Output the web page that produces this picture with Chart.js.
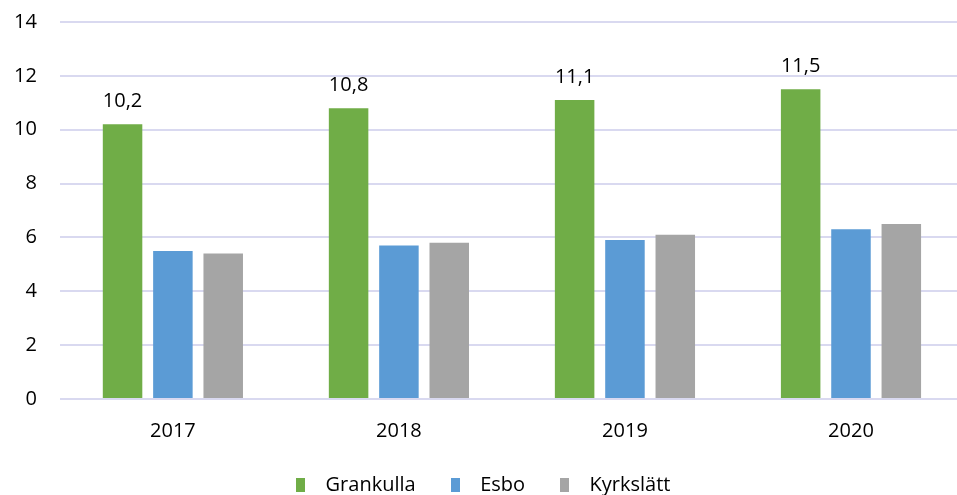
<!DOCTYPE html>
<html><head><meta charset="utf-8">
<script src="https://cdn.jsdelivr.net/npm/chart.js@4/dist/chart.umd.min.js"></script>
<style>html,body{margin:0;padding:0;background:#fff;overflow:hidden}#wrap{width:957px;height:495px;overflow:hidden}#inner{width:964px;height:505px}</style>
</head><body><div id="wrap"><div id="inner"><canvas id="c"></canvas></div></div>
<script>
const categories = ['2017','2018','2019','2020'];
const grankulla = [10.2, 10.8, 11.1, 11.5];
const esbo = [5.5, 5.7, 5.9, 6.3];
const kyrkslatt = [5.4, 5.8, 6.1, 6.5];
const yTicks = [0,2,4,6,8,10,12,14];
const seriesNames = ['Grankulla', 'Esbo', 'Kyrkslätt'];
const seriesColors = ['#70ad47', '#5b9bd5', '#a5a5a5'];
const FONT = '"Open Sans", sans-serif';
const FS = 20;

function swatch(color) {
  const c = document.createElement('canvas');
  c.width = 9; c.height = 14;
  const g = c.getContext('2d');
  g.fillStyle = color; g.fillRect(0, 0, 9, 14);
  return c;
}
const swatches = seriesColors.map(swatch);

const labelPlugin = {
  id: 'lbl',
  afterLayout(chart) {
    if (chart.legend) { chart.legend.left -= 11; chart.legend.right -= 11; }
  },
  afterDatasetsDraw(chart) {
    const ctx = chart.ctx;
    const meta = chart.getDatasetMeta(0);
    ctx.save();
    ctx.font = FS + 'px ' + FONT;
    ctx.fillStyle = '#000';
    ctx.textAlign = 'center';
    ctx.textBaseline = 'alphabetic';
    meta.data.forEach((bar, i) => {
      ctx.fillText(String(grankulla[i]).replace('.', ','), bar.x, bar.y - 17);
    });
    ctx.restore();
  }
};

new Chart(document.getElementById('c'), {
  type: 'bar',
  data: {
    labels: categories,
    datasets: [
      {label: seriesNames[0], data: grankulla, backgroundColor: seriesColors[0]},
      {label: seriesNames[1], data: esbo, backgroundColor: seriesColors[1]},
      {label: seriesNames[2], data: kyrkslatt, backgroundColor: seriesColors[2]}
    ]
  },
  options: {
    responsive: true, maintainAspectRatio: false, animation: false,
    devicePixelRatio: 1,
    datasets: {bar: {categoryPercentage: 0.668, barPercentage: 0.785}},
    layout: {padding: {left: 14, right: 0, top: 0, bottom: 0}},
    plugins: {
      tooltip: {enabled: false},
      legend: {
        position: 'bottom',
        labels: {
          font: {size: FS, family: FONT}, color: '#000',
          usePointStyle: true, pointStyleWidth: 30, boxHeight: 14, padding: 24.5,
          generateLabels(chart) {
            const items = Chart.defaults.plugins.legend.labels.generateLabels(chart);
            items.forEach((it, i) => { it.pointStyle = swatches[i]; });
            return items;
          }
        }
      }
    },
    scales: {
      x: {
        grid: {display: false, drawTicks: false},
        border: {display: false},
        ticks: {font: {size: FS, family: FONT}, color: '#000', padding: 20},
        afterFit(s) { s.height = 51.5; }
      },
      y: {
        min: 0, max: 14,
        afterBuildTicks(axis) { axis.ticks = yTicks.map(v => ({value: v})); },
        grid: {color: '#d9d9f0', lineWidth: 2, drawTicks: false},
        border: {display: false},
        ticks: {font: {size: FS, family: FONT}, color: '#000', padding: 23},
        afterFit(s) { s.width -= 23; s.paddingTop = 22; s.paddingBottom = 0; }
      }
    }
  },
  plugins: [labelPlugin]
});
</script></body></html>
